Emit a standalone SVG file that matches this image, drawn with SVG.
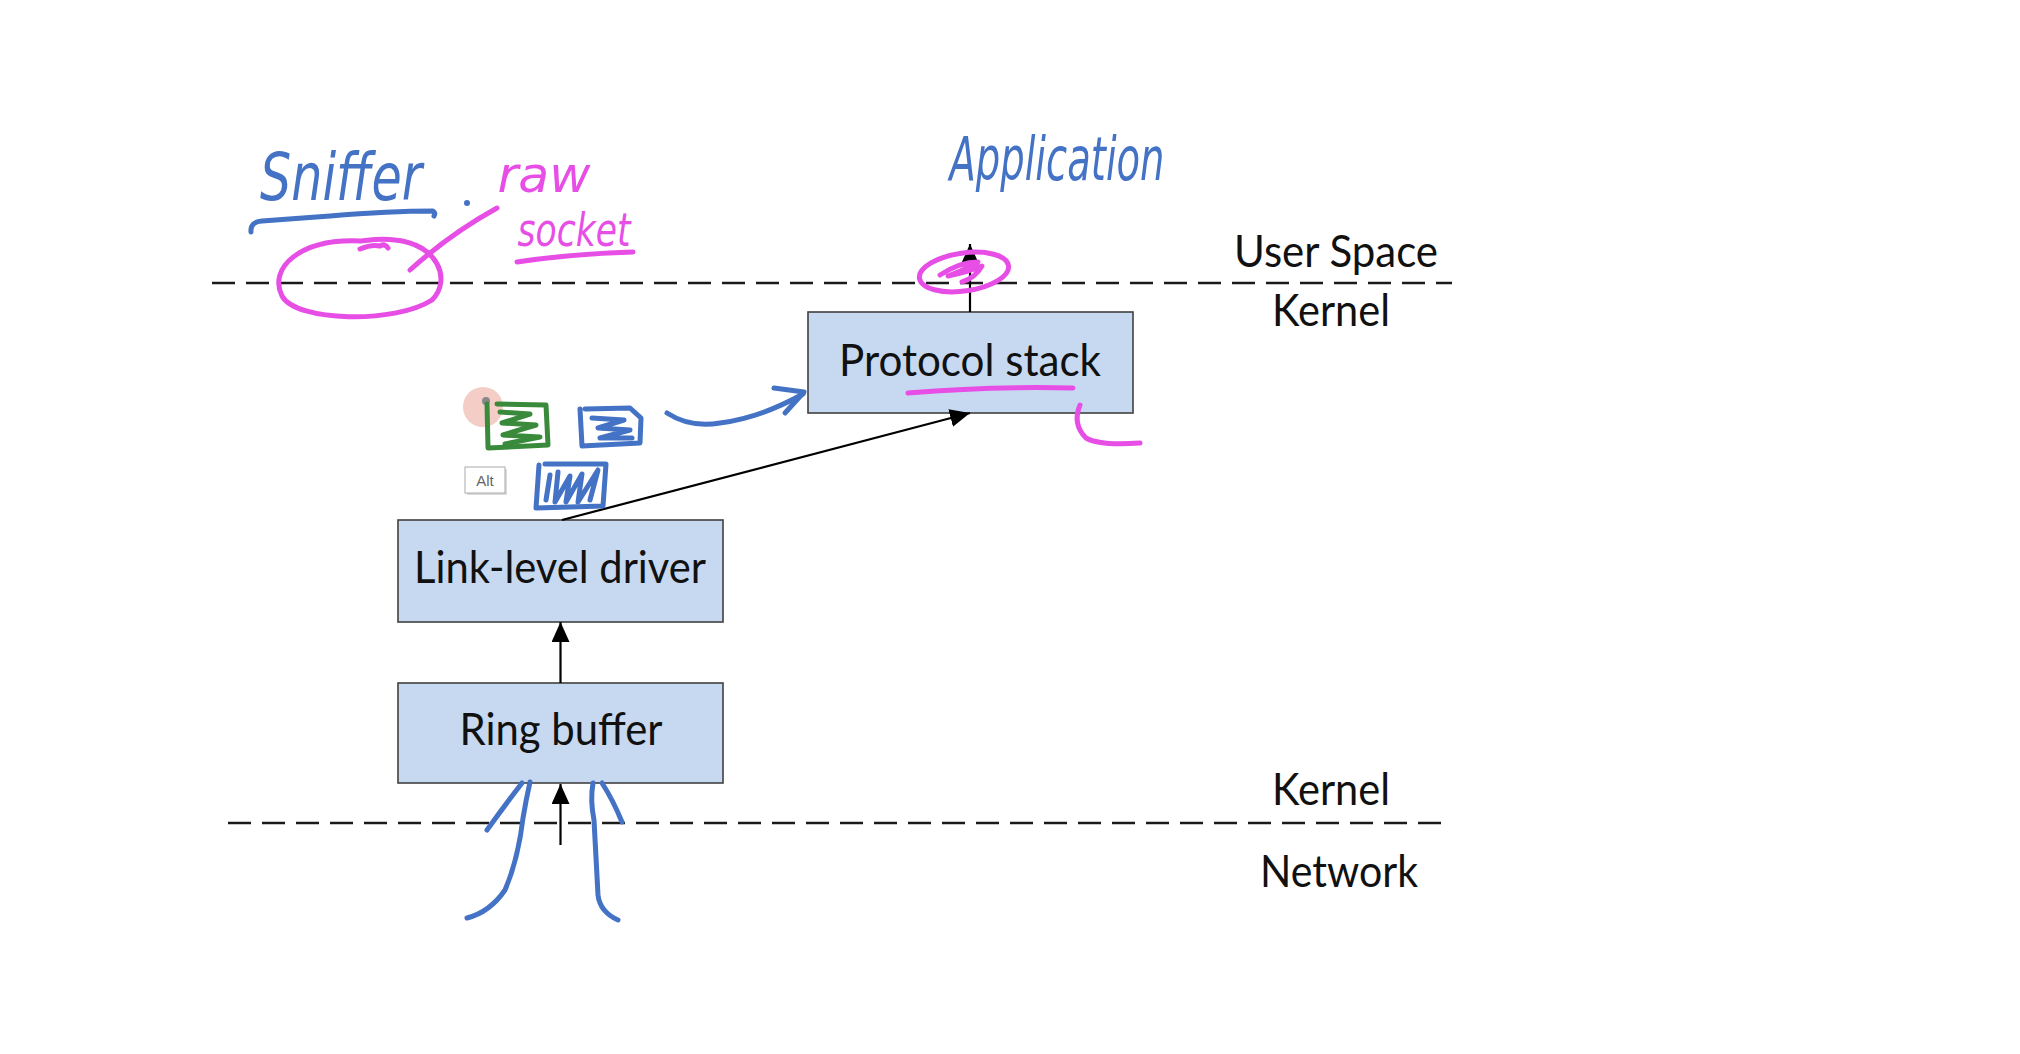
<svg xmlns="http://www.w3.org/2000/svg" width="2020" height="1054" viewBox="0 0 2020 1054">
  <defs>
    <marker id="arr" viewBox="0 0 20 18" refX="20" refY="9" markerWidth="20" markerHeight="18" markerUnits="userSpaceOnUse" orient="auto">
      <path d="M0,0 L20,9 L0,18 z" fill="#000"/>
    </marker>
    <style>
      .box { fill: #c6d9f0; stroke: #404040; stroke-width: 1.6; }
      .lbl { font-family: Lato, "Liberation Sans", sans-serif; font-size: 44px; fill: #111; text-anchor: middle; }
      .dash { stroke: #1a1a1a; stroke-width: 2.6; stroke-dasharray: 23 11; fill: none; }
      .conn { stroke: #000; stroke-width: 2.2; fill: none; marker-end: url(#arr); }
      .blue { stroke: #4472c4; stroke-width: 5; fill: none; stroke-linecap: round; stroke-linejoin: round; }
      .mag { stroke: #e64ee6; stroke-width: 5; fill: none; stroke-linecap: round; stroke-linejoin: round; }
      .green { stroke: #3a8a3c; stroke-width: 5; fill: none; stroke-linecap: round; stroke-linejoin: round; }
      .hw { font-family: "DejaVu Sans", sans-serif; font-style: oblique; }
    </style>
  </defs>
  <rect width="2020" height="1054" fill="#fff"/>

  <!-- boundary lines -->
  <g id="boundaries">
    <line class="dash" x1="212" y1="283" x2="1452" y2="283"/>
    <line class="dash" x1="228" y1="823" x2="1452" y2="823" stroke-dasharray="23 11.314"/>
  </g>

  <!-- region labels -->
  <g id="region-labels">
    <text class="lbl" x="1336" y="267" textLength="204" lengthAdjust="spacingAndGlyphs">User Space</text>
    <text class="lbl" x="1331" y="326" textLength="118" lengthAdjust="spacingAndGlyphs">Kernel</text>
    <text class="lbl" x="1331" y="805" textLength="118" lengthAdjust="spacingAndGlyphs">Kernel</text>
    <text class="lbl" x="1339" y="887" textLength="158" lengthAdjust="spacingAndGlyphs">Network</text>
  </g>

  <!-- nodes -->
  <g id="protocol-stack">
    <rect class="box" x="808" y="312" width="325" height="101"/>
    <text class="lbl" x="970" y="376" textLength="262" lengthAdjust="spacingAndGlyphs">Protocol stack</text>
  </g>
  <g id="link-level-driver">
    <rect class="box" x="398" y="520" width="325" height="102"/>
    <text class="lbl" x="560" y="583" textLength="292" lengthAdjust="spacingAndGlyphs">Link-level driver</text>
  </g>
  <g id="ring-buffer">
    <rect class="box" x="398" y="683" width="325" height="100"/>
    <text class="lbl" x="561" y="745" textLength="203" lengthAdjust="spacingAndGlyphs">Ring buffer</text>
  </g>

  <!-- connectors -->
  <g id="connectors">
    <line class="conn" x1="560.5" y1="845" x2="560.5" y2="784"/>
    <line class="conn" x1="560.5" y1="683" x2="560.5" y2="622"/>
    <line class="conn" x1="562" y1="520" x2="970" y2="413"/>
    <line class="conn" x1="970" y1="312" x2="970" y2="244"/>
  </g>

  <!-- handwritten annotations -->
  <g id="annotation-sniffer">
    <text class="hw" x="341" y="200" font-size="66" fill="#4472c4" text-anchor="middle" textLength="162" lengthAdjust="spacingAndGlyphs">Sniffer</text>
    <path class="blue" d="M251,232 Q250,222 262,221 L330,216 Q390,211 433,211 Q436,213 434,216"/>
    <circle cx="467" cy="203" r="3" fill="#4472c4"/>
  </g>

  <g id="annotation-raw-socket">
    <text class="hw" x="544" y="192" font-size="50" fill="#e64ee6" text-anchor="middle" textLength="93" lengthAdjust="spacingAndGlyphs">raw</text>
    <text class="hw" x="574" y="246" font-size="47" fill="#e64ee6" text-anchor="middle" textLength="113" lengthAdjust="spacingAndGlyphs">socket</text>
    <path class="mag" d="M517,262 Q570,254 633,252"/>
    <path class="mag" d="M410,270 Q450,234 497,208"/>
    <path class="mag" d="M361,241 C300,238 268,268 282,296 C296,322 395,324 432,300 C452,280 438,244 395,240 C380,238 370,240 361,241"/>
    <path class="mag" d="M360,249 Q372,244 380,246 Q385,243 388,248" stroke-width="3.5"/>
  </g>

  <g id="annotation-application">
    <text class="hw" x="1057" y="180" font-size="60" fill="#4472c4" text-anchor="middle" textLength="215" lengthAdjust="spacingAndGlyphs">Application</text>
    <ellipse class="mag" cx="964" cy="272" rx="45" ry="19" transform="rotate(-8 964 272)"/>
    <path class="mag" d="M940,275 Q960,262 978,262 Q965,270 948,276 Q968,272 982,266 Q975,278 962,282" stroke-width="4"/>
  </g>

  <g id="annotation-protocol-marks">
    <path class="mag" d="M908,393 Q990,386 1073,388"/>
    <path class="mag" d="M1080,405 Q1072,424 1086,438 Q1100,446 1140,443"/>
  </g>

  <g id="annotation-packets">
    <circle cx="483" cy="407" r="20" fill="#f0b8ae" opacity="0.7"/>
    <circle cx="486" cy="401" r="4" fill="#888"/>
    <!-- green scribbled packet -->
    <path class="green" d="M487,404 L488,448 L548,445 L546,405 L497,404"/>
    <path class="green" d="M500,412 L530,414 L502,423 L536,425 L503,435 L540,437 L505,444"/>
    <!-- blue packet right -->
    <path class="blue" d="M580,409 L582,446 L640,443 L641,418 L630,408 L585,409"/>
    <path class="blue" d="M592,418 L624,420 L598,428 L630,430 L600,438 L632,438"/>
    <!-- blue packet below -->
    <path class="blue" d="M539,465 L536,508 L603,506 L606,464 L545,464"/>
    <path class="blue" d="M550,475 L546,500 M558,472 L555,502 L570,476 L566,502 L582,474 L578,502 L598,470 L590,500"/>
    <!-- arrow to protocol stack -->
    <path class="blue" d="M667,413 Q690,428 720,423 Q760,418 803,394"/>
    <path class="blue" d="M774,388 L804,392 L785,413"/>
    <!-- Alt tooltip -->
    <rect x="467" y="469" width="40" height="26" fill="#999" opacity="0.35"/>
    <rect x="465" y="467" width="40" height="26" fill="#fff" stroke="#aaa" stroke-width="1"/>
    <text x="485" y="486" font-family="'Liberation Sans', sans-serif" font-size="15" fill="#666" text-anchor="middle">Alt</text>
  </g>

  <g id="annotation-network">
    <path class="blue" d="M522,783 Q505,805 487,830"/>
    <path class="blue" d="M530,782 Q526,800 523,818 Q518,860 505,890 Q490,912 467,918"/>
    <path class="blue" d="M593,783 Q590,800 594,820 Q596,860 598,895 Q600,912 618,920"/>
    <path class="blue" d="M602,783 Q613,800 622,822"/>
  </g>
</svg>
